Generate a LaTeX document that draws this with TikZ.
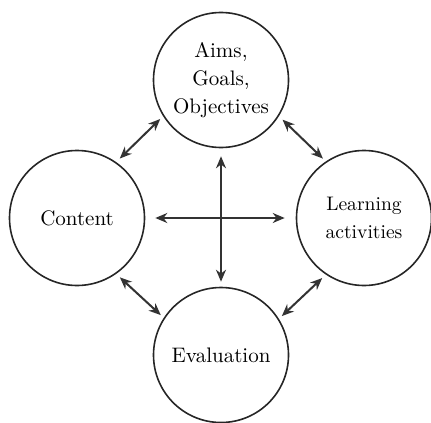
\documentclass[tikz,border=0pt]{standalone}
\usetikzlibrary{arrows.meta}
\begin{document}
\begin{tikzpicture}[x=0.5pt, y=-0.5pt,
    topic/.style={circle, draw=black!85, line width=0.8pt, minimum size=67.5pt, inner sep=0pt,
        align=center, font=\fontsize{10.5}{14}\selectfont},
    link/.style={{Stealth[length=6pt,width=5pt]}-{Stealth[length=6pt,width=5pt]},
        line width=1pt, draw=black!80}]
    \useasboundingbox (0,0) rectangle (431,422);
    \node[topic] (aims) at (221,80) {Aims,\\Goals,\\Objectives};
    \node[topic] (content) at (77,218) {Content};
    \node[topic, font=\fontsize{9.8}{14}\selectfont] (learning) at (364,218) {Learning\\activities};
    \node[topic] (eval) at (221,355) {Evaluation};
    \draw[link, shorten <=5pt, shorten >=5.5pt] (content) -- (learning);
    \draw[link, shorten <=4pt, shorten >=2.5pt] (aims) -- (eval);
    \foreach \a/\b in {content.55/aims.212, aims.328/learning.124,
        content.305/eval.147, learning.236/eval.32} {
        \draw[link, shorten <=2.5pt, shorten >=2pt] (\a) -- (\b);
    }
\end{tikzpicture}
\end{document}
